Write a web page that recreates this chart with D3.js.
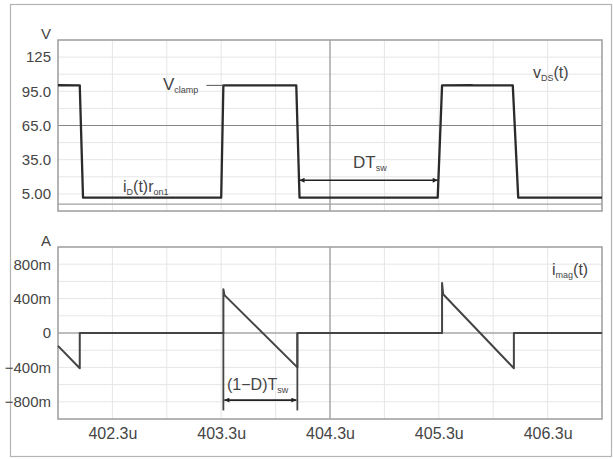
<!DOCTYPE html>
<html>
<head>
<meta charset="utf-8">
<script src="https://cdn.jsdelivr.net/npm/d3@7"></script>
<style>
  body { margin: 0; background: #fff; }
  text { font-family: "Liberation Sans", Arial, sans-serif; fill: #454545; }
</style>
</head>
<body>
<div class="canvas-graph"></div>
<script>
// tick labels
const timeTicks = [402.3, 403.3, 404.3, 405.3, 406.3];
const voltTicks = [125, 95, 65, 35, 5];
const voltTickLabels = ['125', '95.0', '65.0', '35.0', '5.00'];
const ampTicks = [0.8, 0.4, 0, -0.4, -0.8];
const ampTickLabels = ['800m', '400m', '0', '\u2212400m', '\u2212800m'];

// v_DS(t) waveform (us, V)
const vdsTime  = [401.8, 402.0, 402.03, 403.30, 403.32, 403.99, 404.02, 405.29, 405.33, 405.6, 405.62, 405.98, 406.03, 406.8];
const vdsValue = [100.3, 100.2, 1.7, 1.7, 100.2, 100.2, 1.7, 1.7, 100.2, 100.4, 100.2, 100.2, 1.7, 1.7];

// i_mag(t) waveform (us, A)
const imagTime  = [401.8, 402.0, 402.0, 403.32, 403.32, 403.33, 404.0, 404.0, 405.33, 405.33, 405.34, 405.99, 405.99, 406.8];
const imagValue = [-0.15, -0.41, 0, 0, 0.51, 0.44, -0.40, 0, 0, 0.58, 0.45, -0.41, 0, 0];

// annotation spans (us) and heights
const dtSpan = [404.02, 405.29];
const dtLevel = 17;
const offSpan = [403.32, 404.0];
const offLevel = -0.78;
const offExtEnd = -0.9;
const vClamp = 100.2;
const vBase = -4;

const dims = { width: 544, height: 171, left: 58, top1: 40, top2: 247 };

const svg = d3.select('.canvas-graph')
    .append('svg')
    .attr('width', 614)
    .attr('height', 459);

svg.append('rect')
    .attr('x', 10.5).attr('y', 4.5)
    .attr('width', 601).attr('height', 452)
    .attr('fill', 'none').attr('stroke', '#b4b4b4').attr('stroke-width', 1.2);

const x = d3.scaleLinear().domain([401.8, 406.8]).range([0, dims.width]);
const yV = d3.scaleLinear().domain([-10, 140]).range([dims.height, 0]);
const yA = d3.scaleLinear().domain([-1, 1]).range([172, 0]);

const gridX = d3.range(401.8, 406.81, 0.5);

const drawPanel = (offsetY, y, gridY, centerY, ticks, labels, unit, h) => {
    const g = svg.append('g').attr('transform', `translate(${dims.left}, ${offsetY})`);

    g.selectAll('.gy').data(gridY).enter().append('line')
        .attr('x1', 0).attr('x2', dims.width)
        .attr('y1', d => y(d)).attr('y2', d => y(d))
        .attr('stroke', '#e6e6e6').attr('stroke-width', 1);
    g.selectAll('.gx').data(gridX).enter().append('line')
        .attr('x1', d => x(d)).attr('x2', d => x(d))
        .attr('y1', 0).attr('y2', h)
        .attr('stroke', '#e6e6e6').attr('stroke-width', 1);

    // centre cross-hair
    g.append('line')
        .attr('x1', 0).attr('x2', dims.width)
        .attr('y1', y(centerY)).attr('y2', y(centerY))
        .attr('stroke', '#868686').attr('stroke-width', 1);
    g.append('line')
        .attr('x1', x(404.3)).attr('x2', x(404.3))
        .attr('y1', 0).attr('y2', h)
        .attr('stroke', '#868686').attr('stroke-width', 1);

    g.append('rect')
        .attr('width', dims.width).attr('height', h)
        .attr('fill', 'none').attr('stroke', '#a0a0a0').attr('stroke-width', 1.5);

    const yAxis = d3.axisLeft(y)
        .tickValues(ticks)
        .tickFormat((d, i) => labels[i])
        .tickSize(0)
        .tickPadding(7);
    const ax = g.append('g').call(yAxis);
    ax.select('.domain').remove();
    ax.selectAll('text').style('font-size', '15px').attr('fill', '#454545');

    g.append('text')
        .attr('x', -7).attr('y', -1)
        .attr('text-anchor', 'end')
        .style('font-size', '15px')
        .text(unit);
    return g;
};

const vPane = drawPanel(dims.top1, yV, d3.range(-10, 140.1, 15), 65, voltTicks, voltTickLabels, 'V', dims.height);
const iPane = drawPanel(dims.top2, yA, d3.range(-1, 1.01, 0.2), 0, ampTicks, ampTickLabels, 'A', 172);

// extra baseline in the voltage pane
vPane.append('line')
    .attr('x1', 0).attr('x2', dims.width)
    .attr('y1', yV(vBase)).attr('y2', yV(vBase))
    .attr('stroke', '#a0a0a0').attr('stroke-width', 1.2);

// x axis labels
const xAxis = d3.axisBottom(x)
    .tickValues(timeTicks)
    .tickFormat(d => d.toFixed(1) + 'u')
    .tickSize(0)
    .tickPadding(9);
const xg = iPane.append('g').attr('transform', 'translate(0, 172)').call(xAxis);
xg.select('.domain').remove();
xg.selectAll('text').style('font-size', '16px').attr('fill', '#454545');

// waveforms
const vLine = d3.line().x(d => x(d[0])).y(d => yV(d[1]));
vPane.append('path')
    .attr('d', vLine(d3.zip(vdsTime, vdsValue)))
    .attr('fill', 'none').attr('stroke', '#2b2b2b').attr('stroke-width', 2.3)
    .attr('stroke-linejoin', 'round');

const iLine = d3.line().x(d => x(d[0])).y(d => yA(d[1]));
iPane.append('path')
    .attr('d', iLine(d3.zip(imagTime, imagValue)))
    .attr('fill', 'none').attr('stroke', '#444').attr('stroke-width', 2)
    .attr('stroke-linejoin', 'round');

// arrow markers
const defs = svg.append('defs');
['start', 'end'].forEach(k => {
    defs.append('marker')
        .attr('id', 'arr-' + k)
        .attr('viewBox', '0 0 10 10')
        .attr('refX', k === 'end' ? 10 : 0).attr('refY', 5)
        .attr('markerWidth', 7).attr('markerHeight', 5)
        .attr('markerUnits', 'userSpaceOnUse')
        .attr('orient', 'auto')
        .append('path')
        .attr('d', k === 'end' ? 'M0,0 L10,5 L0,10 Z' : 'M10,0 L0,5 L10,10 Z')
        .attr('fill', '#222');
});

const dblArrow = (g, x1, x2, yy) => g.append('line')
    .attr('x1', x1).attr('x2', x2).attr('y1', yy).attr('y2', yy)
    .attr('stroke', '#222').attr('stroke-width', 1.6)
    .attr('marker-start', 'url(#arr-start)')
    .attr('marker-end', 'url(#arr-end)');

dblArrow(vPane, x(dtSpan[0]), x(dtSpan[1]), yV(dtLevel));

iPane.selectAll('.ext').data(offSpan).enter().append('line')
    .attr('x1', d => x(d)).attr('x2', d => x(d))
    .attr('y1', yA(0)).attr('y2', yA(offExtEnd))
    .attr('stroke', '#444').attr('stroke-width', 1.8);
dblArrow(iPane, x(offSpan[0]) + 1, x(offSpan[1]) - 1, yA(offLevel));

// Vclamp leader
vPane.append('line')
    .attr('x1', x(403.32) - 17).attr('x2', x(403.32))
    .attr('y1', yV(vClamp)).attr('y2', yV(vClamp))
    .attr('stroke', '#555').attr('stroke-width', 1);

// labels with subscripts
const label = (g, px, py, main, sub, tail, size) => {
    const t = g.append('text').attr('x', px).attr('y', py).style('font-size', size + 'px');
    t.append('tspan').text(main);
    t.append('tspan').attr('dy', 3).style('font-size', '9px').text(sub);
    if (tail) t.append('tspan').attr('dy', -3).text(tail);
    return t;
};

label(vPane, 105, 50, 'V', 'clamp', null, 17);
label(vPane, 475, 38, 'v', 'DS', '(t)', 16);
const idr = vPane.append('text').attr('x', 65).attr('y', 152).style('font-size', '16px');
idr.append('tspan').text('i');
idr.append('tspan').attr('dy', 3).style('font-size', '9px').text('D');
idr.append('tspan').attr('dy', -3).text('(t)r');
idr.append('tspan').attr('dy', 3).style('font-size', '9px').text('on1');
label(vPane, 295, 128, 'DT', 'sw', null, 17);
label(iPane, 494, 28, 'i', 'mag', '(t)', 16);
label(iPane, 169, 143, '(1\u2212D)T', 'sw', null, 16);
</script>
</body>
</html>
